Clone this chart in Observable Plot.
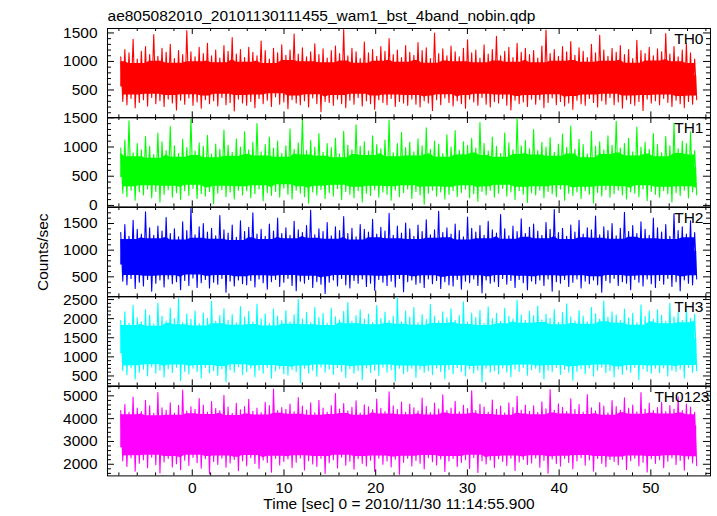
<!DOCTYPE html>
<html><head><meta charset="utf-8">
<script src="https://cdn.jsdelivr.net/npm/d3@7"></script>
<script src="https://cdn.jsdelivr.net/npm/@observablehq/plot@0.6"></script>
<style>
body{margin:0;background:#fff;}
#chart{position:relative;width:717px;height:516px;background:#fff;overflow:hidden;}
#chart svg{position:absolute;left:0;}
</style></head><body><div id="chart"></div>
<script>
const titleText = "ae805082010_20101130111455_wam1_bst_4band_nobin.qdp";
const xLabel = "Time [sec] 0 = 2010/11/30 11:14:55.900";
const yLabel = "Counts/sec";
const seriesNames = ["TH0", "TH1", "TH2", "TH3", "TH0123"];
const seriesColors = ["#ff0000", "#00ff00", "#0000ff", "#00ffff", "#ff00ff"];
const seriesMid = [650, 560, 850, 1280, 3200];
const coreShare = [0.8, 0.8, 0.85, 0.9, 0.9]; // share of each excursion that is densely filled
const tStart = -7.8, tEnd = 55.0;
const xDomain = [-9.24, 56.5];
const xMajorTicks = [0, 10, 20, 30, 40, 50];
const xMinorStep = 2;
const yDomains = [[10, 1578], [-25, 1505], [124, 1800], [240, 2580], [1490, 5410]];
const yMajorTicks = [[500, 1000, 1500], [0, 500, 1000, 1500], [500, 1000, 1500], [500, 1000, 1500, 2000, 2500], [2000, 3000, 4000, 5000]];
const yMinorStep = [100, 100, 100, 100, 200];

// local maxima (hi) and minima (lo) of each light curve, in order of time
const th0Hi = [1080,1210,1150,1390,1040,1180,1260,1120,1470,1090,
1230,1160,1300,1050,1190,1120,1540,1170,1080,1250,
1140,1320,1100,1200,1060,1280,1180,1420,1130,1210,
1070,1250,1160,1100,1360,1190,1040,1230,1150,1290,
1110,1200,1480,1130,1240,1080,1170,1310,1120,1220,
1060,1190,1270,1140,1560,1100,1230,1170,1050,1340,
1150,1210,1090,1260,1180,1400,1120,1200,1070,1280,
1160,1110,1330,1190,1240,1050,1500,1140,1220,1100,
1270,1170,1080,1230,1380,1150,1200,1060,1290,1130,
1210,1440,1100,1180,1250,1070,1320,1160,1230,1120,
1190,1060,1270,1550,1140,1210,1090,1260,1170,1350,
1110,1240,1180,1070,1300,1150,1460,1200,1090,1230,
1160,1280,1120,1210,1050,1370,1190,1140,1250,1100,
1220,1170,1490,1130,1260,1080,1200,1310,1150,1040];
const th0Lo = [300,240,350,190,280,330,220,370,260,310,
210,340,270,150,320,250,360,230,290,180,
330,260,310,220,370,240,280,130,340,270,
230,300,190,350,260,320,210,380,250,290,
170,330,270,240,310,200,360,260,120,300,
280,230,340,260,190,320,250,370,220,310,
260,160,330,280,240,350,210,300,270,230,
340,250,200,310,270,140,330,240,360,280,
220,310,260,180,340,290,230,370,250,200,
300,270,350,230,150,320,260,290,210,340,
250,330,190,280,360,240,300,220,270,160,
320,260,230,350,280,200,310,250,370,240,
290,180,330,260,230,300,140,340,270,310,
240,350,280,210,320,260,190,300,250,330];

const th1Hi = [980,1120,1450,900,1060,950,1180,1010,870,1240,
1090,940,1350,1020,890,1130,990,1480,930,1070,
1010,1200,880,1050,960,1290,1030,910,1140,1000,
1260,950,1080,1400,920,1040,1170,980,1100,890,
1020,1310,960,1070,1490,940,1110,1000,1230,910,
1060,990,1150,880,1270,1030,950,1380,1010,1090,
930,1190,1040,970,1120,1460,900,1060,1250,990,
1080,920,1140,1020,1330,960,1100,1050,890,1210,
1000,1280,940,1090,1030,1150,980,1420,1060,930,
1170,1010,890,1240,1070,950,1500,1020,1110,970,
1300,940,1080,1000,1160,910,1050,1220,990,1360,
960,1130,1040,880,1270,1010,1090,950,1190,1030,
1440,980,1060,1150,920,1340,1000,1080,960,1230,
1040,900,1180,1020,1410,970,1100,1060,1260,940];
const th1Lo = [210,150,260,90,230,180,280,130,240,60,
190,270,140,220,100,250,170,290,120,200,
160,240,30,210,270,150,230,110,260,180,
250,130,200,280,80,220,170,240,140,300,
190,110,260,210,150,40,230,180,270,120,
220,160,290,100,240,190,130,250,60,210,
170,270,140,230,190,90,260,150,220,280,
120,240,180,20,210,260,160,230,110,190,
250,150,220,280,130,200,70,240,180,260,
140,210,290,160,230,100,250,190,50,220,
180,260,130,240,200,150,280,90,210,170,
230,120,250,190,40,220,160,270,140,200,
260,180,110,230,210,150,280,80,240,190,
140,250,200,60,220,170,260,130,230,180];

const th2Hi = [1330,1480,1260,1560,1390,1300,1720,1420,1280,1450,
1360,1610,1310,1400,1250,1530,1370,1780,1290,1440,
1500,1340,1410,1270,1650,1380,1320,1470,1240,1550,
1350,1430,1700,1300,1390,1260,1490,1360,1600,1310,
1420,1280,1540,1380,1330,1460,1750,1290,1400,1350,
1520,1270,1440,1370,1630,1310,1410,1250,1480,1390,
1340,1580,1300,1430,1360,1690,1280,1450,1320,1510,
1400,1260,1470,1350,1570,1290,1380,1730,1330,1420,
1300,1490,1370,1250,1620,1410,1340,1460,1280,1540,
1380,1320,1670,1400,1270,1450,1350,1590,1310,1430,
1490,1360,1280,1520,1390,1760,1330,1410,1260,1470,
1340,1560,1300,1420,1380,1640,1290,1440,1370,1500,
1270,1410,1710,1350,1460,1310,1530,1390,1280,1600,
1420,1340,1480,1260,1680,1370,1440,1300,1550,1330];
const th2Lo = [420,350,470,280,400,330,450,230,380,440,
310,460,370,410,260,430,340,480,300,390,
450,290,400,360,470,210,420,330,440,370,
350,430,310,460,390,270,410,450,320,400,
470,340,240,420,380,450,300,410,360,190,
400,440,330,470,350,290,430,380,460,320,
380,250,450,400,340,420,310,470,220,410,
440,360,390,300,460,370,430,280,410,350,
330,450,270,420,390,460,340,200,440,380,
410,320,470,360,430,300,450,390,260,420,
370,440,340,460,230,410,380,450,320,400,
460,290,420,370,440,350,210,430,390,470,
340,410,380,260,450,400,330,460,370,300,
430,360,470,320,410,240,440,380,350,460];

const th3Hi = [1950,2180,1880,2350,2020,1920,2240,2090,1860,2410,
2060,1940,2280,2000,2530,1900,2120,1980,2200,1870,
2150,2010,2450,1930,2080,2260,1960,2110,1890,2320,
2040,2190,1910,2380,2000,2130,1870,2250,2070,1950,
2210,1920,2100,2500,1990,2160,1900,2300,2030,2140,
1880,2270,2050,1970,2190,2420,1930,2080,2230,1990,
2120,1900,2340,2010,2170,1950,2060,2550,1920,2200,
2040,2290,1890,2110,1980,2370,2070,1940,2180,2020,
2260,1960,2090,2440,1910,2150,2030,2220,1880,2310,
2000,2140,1930,2270,2060,1990,2480,2100,1950,2190,
2080,2330,1970,2120,2010,2240,1900,2160,2390,2050,
1940,2210,2070,1920,2300,2130,1990,2460,2040,2180,
2100,1950,2250,2020,2140,1890,2360,2060,2200,1980,
2230,2090,1930,2400,2050,2170,1960,2280,2010,2120];
const th3Lo = [640,530,710,420,600,680,500,740,570,650,
470,690,590,730,380,620,550,700,610,450,
720,580,640,510,690,350,660,600,740,530,
610,700,480,650,570,720,440,630,690,560,
520,670,610,320,700,580,650,490,730,600,
680,540,720,620,460,690,570,640,400,710,
590,650,510,730,600,660,360,700,560,620,
700,460,680,590,640,530,710,610,430,670,
560,720,620,500,690,580,650,340,700,600,
640,550,710,600,480,680,620,730,520,660,
700,590,420,650,610,720,540,670,600,390,
620,690,560,710,500,650,730,580,640,470,
680,540,660,600,720,410,690,620,570,700,
590,710,500,650,620,680,450,720,600,640];

const th0123Hi = [4350,4620,4280,4950,4470,4310,4800,4560,4230,5150,
4480,4370,4700,4250,4590,5250,4330,4520,4410,4880,
4600,4290,4750,4440,4360,5020,4510,4240,4670,4390,
4530,4850,4320,4460,4270,4720,4580,5300,4350,4490,
4410,4640,4300,4920,4550,4380,4690,4260,4810,4470,
4290,4570,5100,4420,4660,4340,4500,4780,4250,4610,
4520,4390,4860,4450,4310,5180,4560,4400,4730,4280,
4640,4480,4330,4900,4540,4270,4680,4420,5050,4360,
4470,4760,4300,4590,4440,5220,4350,4630,4510,4290,
4820,4410,4550,4260,4700,4490,4980,4380,4600,4320,
4560,4280,4740,4430,5280,4370,4650,4500,4310,4870,
4400,4620,4290,5060,4480,4340,4710,4550,4260,4790,
4530,4380,4910,4460,4600,4300,5140,4420,4680,4350,
4490,4720,4310,4580,4420,4960,4360,4640,4510,4280];
const th0123Lo = [2150,1900,2280,1700,2050,2200,1850,2310,1980,1620,
2100,2250,1880,2020,1760,2180,1950,2300,2070,1830,
2240,1580,2120,1990,2270,1870,2060,2210,1720,2150,
1940,2290,2030,1810,2190,2080,1650,2260,1970,2120,
2230,1860,2090,2280,1750,2160,2010,1900,2250,1600,
2070,2200,1840,2310,1960,2130,1780,2240,2040,1920,
2180,1690,2270,2000,2140,1880,2220,1560,2090,2260,
1930,2170,2050,1790,2290,2110,1970,2230,1680,2140,
2250,1900,2080,2200,1820,2300,1640,2150,2010,2190,
1860,2240,2120,1950,2270,1730,2100,2210,1990,2060,
2280,1870,2170,1610,2230,2030,1920,2260,2080,1800,
2140,2290,1960,2190,1700,2250,2050,1890,2210,2120,
1980,2220,1770,2160,2270,1930,2090,1660,2240,2040,
2200,1850,2130,2280,1990,2170,1740,2230,2060,1940];

const seriesHi = [th0Hi, th1Hi, th2Hi, th3Hi, th0123Hi];
const seriesLo = [th0Lo, th1Lo, th2Lo, th3Lo, th0123Lo];

function buildPairs(hi, lo) {
  const n = Math.min(hi.length, lo.length);
  const step = (tEnd - tStart) / (2 * n - 1);
  const rows = [];
  for (let i = 0; i < n; i++) {
    rows.push({tHi: tStart + 2 * i * step, tLo: tStart + (2 * i + 1) * step, hi: hi[i], lo: lo[i]});
  }
  return rows;
}
function buildLine(pairs) {
  return pairs.flatMap(d => [{t: d.tHi, v: d.hi}, {t: d.tLo, v: d.lo}]);
}

const W = 717, frameLeft = 107, frameRight = 710, frameTop = 28, frameBottom = 475;
const panelH = (frameBottom - frameTop) / 5;
const plotW = frameRight - frameLeft;
const font = "'Liberation Sans', Arial, Helvetica, sans-serif";
const fs = 15.5;
const chart = document.getElementById("chart");
const xMinorTicks = d3.range(-8, 57, xMinorStep).filter(d => !xMajorTicks.includes(d));

for (let i = 0; i < 5; i++) {
  const padTop = i === 0 ? frameTop : 8;
  const padBottom = i === 4 ? (516 - frameBottom) : 8;
  const height = panelH + padTop + padBottom;
  const [y0, y1] = yDomains[i];
  const minor = d3.range(Math.ceil(y0 / yMinorStep[i]) * yMinorStep[i], y1, yMinorStep[i]).filter(d => !yMajorTicks[i].includes(d));
  const pairs = buildPairs(seriesHi[i], seriesLo[i]);
  const mid = seriesMid[i];
  const share = coreShare[i];
  const color = seriesColors[i];
  const marks = [
    // dense core of the light curve
    Plot.areaY(pairs, Plot.windowY({k: 5, reduce: "min"}, {x: "tHi", y1: () => mid * 0.85, y2: d => mid + share * (d.hi - mid), fill: color, clip: true})),
    Plot.areaY(pairs, Plot.windowY({k: 5, reduce: "max"}, {x: "tLo", y1: d => mid - share * (mid - d.lo), y2: () => mid * 1.15, fill: color, clip: true})),
    // the light curve itself
    Plot.line(buildLine(pairs), {x: "t", y: "v", stroke: color, strokeWidth: 1.1, clip: true}),
    Plot.frame({stroke: "black", strokeWidth: 1}),
    // y ticks inward, left and right
    Plot.tickY(minor, {y: d => d, stroke: "black", insetRight: plotW - 4}),
    Plot.tickY(minor, {y: d => d, stroke: "black", insetLeft: plotW - 4}),
    Plot.tickY(yMajorTicks[i], {y: d => d, stroke: "black", insetRight: plotW - 7}),
    Plot.tickY(yMajorTicks[i], {y: d => d, stroke: "black", insetLeft: plotW - 7}),
    // x ticks inward, top and bottom
    Plot.tickX(xMinorTicks, {x: d => d, stroke: "black", insetBottom: panelH - 3}),
    Plot.tickX(xMinorTicks, {x: d => d, stroke: "black", insetTop: panelH - 3}),
    Plot.tickX(xMajorTicks, {x: d => d, stroke: "black", insetBottom: panelH - 6}),
    Plot.tickX(xMajorTicks, {x: d => d, stroke: "black", insetTop: panelH - 6}),
    Plot.text(yMajorTicks[i], {y: d => d, text: d => String(d), frameAnchor: "left", dx: -10, textAnchor: "end", lineAnchor: "middle", fontSize: fs, fill: "black"}),
    Plot.text([seriesNames[i]], {text: d => d, frameAnchor: "top-right", dx: i === 4 ? -1 : -7, dy: 15.5, textAnchor: "end", lineAnchor: "bottom", fontSize: fs, fill: "black"})
  ];
  if (i === 0) {
    marks.push(Plot.text([titleText], {text: d => d, frameAnchor: "top-left", dy: -7.5, textAnchor: "start", lineAnchor: "bottom", fontSize: fs, fill: "black"}));
  }
  if (i === 2) {
    marks.push(Plot.text([yLabel], {text: d => d, frameAnchor: "left", dx: -60, rotate: -90, textAnchor: "middle", lineAnchor: "bottom", fontSize: fs, fill: "black"}));
  }
  if (i === 4) {
    marks.push(Plot.text(xMajorTicks, {x: d => d, text: d => String(d), frameAnchor: "bottom", dy: 6, lineAnchor: "top", fontSize: fs, fill: "black"}));
    marks.push(Plot.text([xLabel], {text: d => d, frameAnchor: "bottom", dx: -10, dy: 33, lineAnchor: "bottom", fontSize: fs, fill: "black"}));
  }
  const svg = Plot.plot({
    width: W, height,
    marginLeft: frameLeft, marginRight: W - frameRight, marginTop: padTop, marginBottom: padBottom,
    x: {domain: xDomain, axis: null},
    y: {domain: yDomains[i], axis: null},
    style: {fontFamily: font, fontSize: fs + "px", background: "transparent", color: "black", overflow: "visible"},
    marks
  });
  svg.style.top = (frameTop + i * panelH - padTop) + "px";
  chart.appendChild(svg);
}
</script></body></html>
